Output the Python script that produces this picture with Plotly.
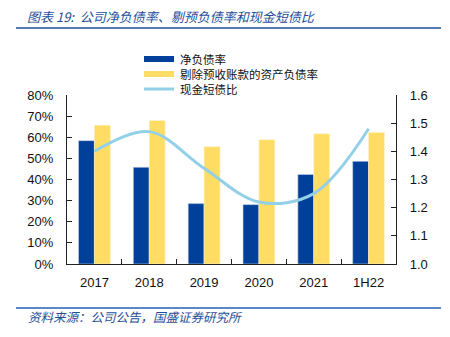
import plotly.graph_objects as go

categories = ["2017", "2018", "2019", "2020", "2021", "1H22"]
net_debt_ratio = [0.584, 0.458, 0.286, 0.281, 0.424, 0.486]
adj_asset_liab_ratio = [0.657, 0.679, 0.555, 0.588, 0.616, 0.623]
cash_short_debt = [1.40, 1.47, 1.34, 1.22, 1.25, 1.48]
series_names = ["净负债率", "剔除预收账款的资产负债率", "现金短债比"]
left_ticks = [0, 0.1, 0.2, 0.3, 0.4, 0.5, 0.6, 0.7, 0.8]
right_ticks = [1.0, 1.1, 1.2, 1.3, 1.4, 1.5, 1.6]

BLUE = "#00409A"
YELLOW = "#FFDC64"
LIGHT = "#92D0E8"
CJK = "Noto Sans CJK SC"
NUM = "Liberation Sans, Arial, sans-serif"

fig = go.Figure()
fig.add_trace(go.Bar(x=categories, y=net_debt_ratio, name=series_names[0],
                     marker=dict(color=BLUE, line=dict(color="#C8D4E8", width=0.6)), yaxis="y"))
fig.add_trace(go.Bar(x=categories, y=adj_asset_liab_ratio, name=series_names[1],
                     marker=dict(color=YELLOW, line=dict(color="#FFF3C8", width=0.6)), yaxis="y"))
fig.add_trace(go.Scatter(x=categories, y=cash_short_debt, name=series_names[2], mode="lines",
                         line=dict(color=LIGHT, width=3, shape="spline", smoothing=1.0), yaxis="y2"))

W, H = 450, 337
ML, MR, MT, MB = 67, 54, 95, 73
PW, PH = W - ML - MR, H - MT - MB
def px(x): return (x - ML) / PW
def py(y): return (H - MB - y) / PH

shapes = [
    dict(type="line", xref="paper", yref="paper", x0=px(16), x1=px(441), y0=py(28), y1=py(28),
         line=dict(color="#1F4E99", width=1.5)),
    dict(type="line", xref="paper", yref="paper", x0=px(16), x1=px(441), y0=py(308), y1=py(308),
         line=dict(color="#5B87C5", width=2)),
]
legend_rows = [(59, BLUE, "rect"), (74, YELLOW, "rect"), (89, LIGHT, "line")]
annotations = []
for (yy, col, kind), name in zip(legend_rows, series_names):
    if kind == "rect":
        shapes.append(dict(type="rect", xref="paper", yref="paper", x0=px(144), x1=px(174),
                           y0=py(yy + 3), y1=py(yy - 3), fillcolor=col, line=dict(width=0)))
    else:
        shapes.append(dict(type="line", xref="paper", yref="paper", x0=px(144), x1=px(174),
                           y0=py(yy), y1=py(yy), line=dict(color=col, width=3)))
    annotations.append(dict(xref="paper", yref="paper", x=px(179), y=py(yy), xanchor="left",
                            yanchor="middle", text=name, showarrow=False, borderpad=0,
                            font=dict(family=CJK, size=11.5, color="#111111")))

annotations.append(dict(xref="paper", yref="paper", x=px(25), y=py(16), xanchor="left", yanchor="middle",
                        text="图表 19:  公司净负债率、剔预负债率和现金短债比", showarrow=False,
                        font=dict(family=CJK, size=13, color="#1F4E99", style="italic")))
annotations.append(dict(xref="paper", yref="paper", x=px(26), y=py(316), xanchor="left", yanchor="middle",
                        text="资料来源：公司公告，国盛证券研究所", showarrow=False,
                        font=dict(family=CJK, size=12.5, color="#1F4E99", style="italic")))

fig.update_layout(
    width=W, height=H, paper_bgcolor="white", plot_bgcolor="white",
    margin=dict(l=ML, r=MR, t=MT, b=MB),
    barmode="group", bargap=0.42, bargroupgap=0.0,
    showlegend=False,
    shapes=shapes, annotations=annotations,
    xaxis=dict(type="category", range=[-0.5, 5.5], showline=True, linecolor="#222222", linewidth=1.2,
               ticks="inside", tickson="boundaries", ticklen=5, tickcolor="#222222",
               tickfont=dict(family=NUM, size=13, color="#111111"), showgrid=False, ticklabelstandoff=6),
    yaxis=dict(range=[0, 0.8], tickvals=left_ticks, tickformat=".0%", showline=True, linecolor="#222222",
               linewidth=1.2, ticks="inside", ticklen=5, tickcolor="#222222", showgrid=False, zeroline=False,
               tickfont=dict(family=NUM, size=13, color="#111111"), ticklabelstandoff=10),
    yaxis2=dict(range=[1.0, 1.6], tickvals=right_ticks, tickformat=".1f", overlaying="y", side="right",
                showline=True, linecolor="#222222", linewidth=1.2, ticks="inside", ticklen=5,
                tickcolor="#222222", showgrid=False, zeroline=False,
                tickfont=dict(family=NUM, size=13, color="#111111"), ticklabelstandoff=10),
)

fig.write_html("out.html")
